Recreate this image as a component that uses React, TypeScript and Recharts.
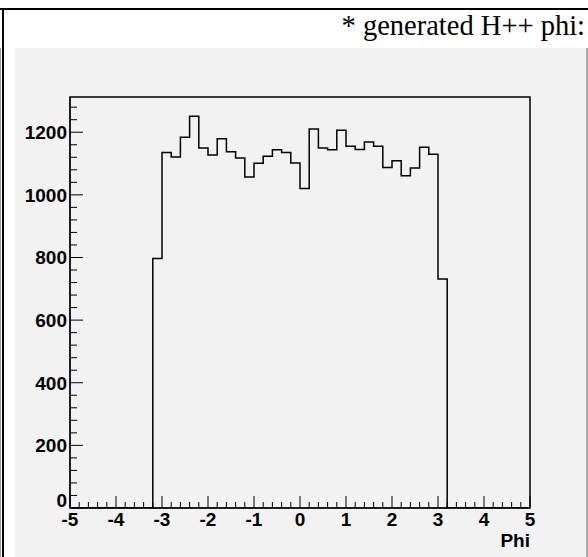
import React from 'react';
import { ComposedChart, Line, XAxis, YAxis, ReferenceArea } from 'recharts';

// lower edge of each 0.2-wide bin in phi, and the entries in that bin
const binLow = [
  -3.2, -3.0, -2.8, -2.6, -2.4, -2.2, -2.0, -1.8, -1.6, -1.4, -1.2, -1.0, -0.8, -0.6, -0.4, -0.2,
  0.0, 0.2, 0.4, 0.6, 0.8, 1.0, 1.2, 1.4, 1.6, 1.8, 2.0, 2.2, 2.4, 2.6, 2.8, 3.0,
];
const binCount = [
  797, 1135, 1121, 1184, 1251, 1150, 1127, 1179, 1138, 1118, 1057, 1101, 1123, 1144, 1135, 1102,
  1020, 1210, 1150, 1144, 1206, 1155, 1145, 1169, 1155, 1087, 1109, 1061, 1086, 1152, 1130, 731,
];

const xMajor = [-5, -4, -3, -2, -1, 0, 1, 2, 3, 4, 5];
const yMajor = [0, 200, 400, 600, 800, 1000, 1200];
const X_MIN = -5;
const X_MAX = 5;
const Y_MAX = 1312.5;

const xTicks: number[] = [];
xMajor.forEach((m, i) => {
  if (i === xMajor.length - 1) { xTicks.push(m); return; }
  for (let k = 0; k < 5; k++) xTicks.push(Number((m + k * 0.2).toFixed(1)));
});
const yTicks: number[] = [];
yMajor.forEach((m) => {
  for (let k = 0; k < 5; k++) if (m + k * 40 <= Y_MAX) yTicks.push(m + k * 40);
});

// step outline: flat at zero outside the filled range, one point per bin edge
const data = [
  { phi: X_MIN, count: 0 },
  ...binLow.map((x, i) => ({ phi: x, count: binCount[i] })),
  { phi: 3.2, count: 0 },
  { phi: X_MAX, count: 0 },
];

const labelFont = { fontFamily: '"Liberation Sans", Arial, sans-serif', fontWeight: 700, fontSize: 19 };

const XTick = (props: any) => {
  const { x, y, payload } = props;
  const v = payload.value;
  const major = Math.abs(v - Math.round(v)) < 1e-6;
  return (
    <g>
      <line x1={x} x2={x} y1={y} y2={y - (major ? 12 : 6)} stroke="#000" strokeWidth={1} />
      {major && (
        <text x={x} y={y + 18} textAnchor="middle" fill="#000" style={labelFont}>
          {Math.round(v)}
        </text>
      )}
    </g>
  );
};

const YTick = (props: any) => {
  const { x, y, payload } = props;
  const v = payload.value;
  const major = v % 200 === 0;
  // the zero label sits a little higher so it clears the x labels
  const dy = v === 0 ? -1 : 7;
  return (
    <g>
      <line x1={x} x2={x + (major ? 13 : 7)} y1={y} y2={y} stroke="#000" strokeWidth={1} />
      {major && (
        <text x={x - 3} y={y + dy} textAnchor="end" fill="#000" style={labelFont}>
          {v}
        </text>
      )}
    </g>
  );
};

const PhiLabel = (props: any) => {
  const { viewBox } = props;
  return (
    <text x={viewBox.x + viewBox.width} y={viewBox.y + 39} textAnchor="end" fill="#000" style={labelFont}>
      Phi
    </text>
  );
};

export default function App() {
  return (
    <div style={{ position: 'absolute', left: 0, top: 0, width: 588, height: 557, background: '#fff', overflow: 'hidden' }}>
      <div style={{ position: 'absolute', left: 0, top: 8, width: 588, height: 2, background: '#000' }} />
      <div style={{ position: 'absolute', left: 2, top: 8, width: 2, height: 549, background: '#000' }} />
      <div style={{ position: 'absolute', left: 0, top: 48, width: 1, height: 509, background: '#999' }} />
      <div style={{ position: 'absolute', left: 15, top: 48, width: 571, height: 509, background: '#f2f2f2' }} />
      <div style={{ position: 'absolute', left: 586, top: 48, width: 2, height: 509, background: '#aaa' }} />
      <div
        style={{
          position: 'absolute',
          right: 3,
          top: 12,
          fontFamily: '"Liberation Serif", "Times New Roman", serif',
          fontSize: 28.5,
          lineHeight: '28px',
          whiteSpace: 'nowrap',
          color: '#000',
        }}
      >
        * generated H++ phi:
      </div>
      <div style={{ position: 'absolute', left: 0, top: 0 }}>
        <ComposedChart width={588} height={557} data={data} margin={{ top: 97, right: 58, bottom: 19, left: 10 }}>
          <XAxis
            dataKey="phi"
            type="number"
            domain={[X_MIN, X_MAX]}
            ticks={xTicks}
            interval={0}
            tickSize={0}
            tickMargin={0}
            tickLine={false}
            tick={<XTick />}
            axisLine={{ stroke: '#000' }}
            height={30}
            allowDataOverflow
            label={<PhiLabel />}
          />
          <YAxis
            type="number"
            domain={[0, Y_MAX]}
            ticks={yTicks}
            interval={0}
            tickSize={0}
            tickMargin={0}
            tickLine={false}
            tick={<YTick />}
            axisLine={{ stroke: '#000' }}
            width={60}
            allowDataOverflow
          />
          <ReferenceArea x1={X_MIN} x2={X_MAX} y1={0} y2={Y_MAX} fill="none" stroke="#000" strokeWidth={1.5} />
          <Line
            type="stepAfter"
            dataKey="count"
            stroke="#000"
            strokeWidth={1.5}
            dot={false}
            isAnimationActive={false}
          />
        </ComposedChart>
      </div>
    </div>
  );
}
